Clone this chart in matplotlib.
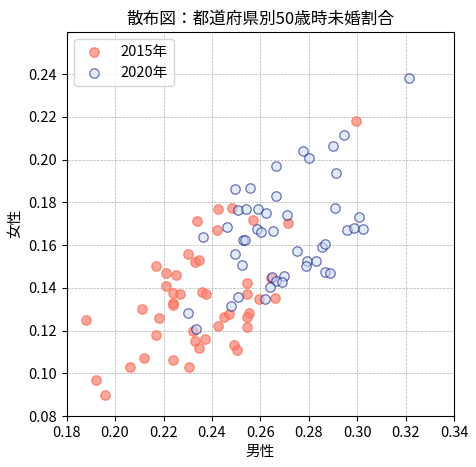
import matplotlib
matplotlib.use("Agg")
import matplotlib.pyplot as plt
from matplotlib.ticker import MultipleLocator

plt.rcParams["font.family"] = ["Noto Sans CJK JP", "DejaVu Sans"]

# 都道府県別50歳時未婚割合 (男性, 女性)
male_2015 = [0.188, 0.192, 0.196, 0.206, 0.212, 0.211, 0.217, 0.218, 0.217, 0.221,
             0.221, 0.225, 0.224, 0.227, 0.224, 0.224, 0.224, 0.230, 0.233, 0.2345,
             0.2307, 0.232, 0.233, 0.2348, 0.2373, 0.236, 0.2377, 0.2426, 0.2451, 0.2472,
             0.2492, 0.2505, 0.2340, 0.2426, 0.2484, 0.2420, 0.2546, 0.2546, 0.2554, 0.2546,
             0.2544, 0.2596, 0.2571, 0.2716, 0.2662, 0.2644, 0.2995]
female_2015 = [0.125, 0.097, 0.090, 0.103, 0.107, 0.130, 0.118, 0.126, 0.150, 0.141,
               0.147, 0.146, 0.1375, 0.137, 0.133, 0.132, 0.106, 0.156, 0.152, 0.153,
               0.103, 0.120, 0.115, 0.112, 0.116, 0.138, 0.137, 0.1221, 0.1262, 0.1278,
               0.1132, 0.1109, 0.1713, 0.1768, 0.1773, 0.1671, 0.1421, 0.1370, 0.1281, 0.1262,
               0.1215, 0.1348, 0.1718, 0.1702, 0.1351, 0.1445, 0.2181]

male_2020 = [0.2302, 0.2334, 0.2495, 0.2524, 0.2509, 0.2479, 0.2497, 0.2463, 0.2364, 0.2775,
             0.2802, 0.2665, 0.2912, 0.2557, 0.2665, 0.2908, 0.2509, 0.2539, 0.2592, 0.2622,
             0.2711, 0.3009, 0.2587, 0.2601, 0.2654, 0.2527, 0.2538, 0.2957, 0.2988, 0.3025,
             0.2753, 0.2794, 0.2789, 0.2830, 0.2856, 0.2866, 0.2868, 0.2886, 0.2648, 0.2698,
             0.2665, 0.2689, 0.2640, 0.2620, 0.3215, 0.2947, 0.2901]
female_2020 = [0.1282, 0.1209, 0.1559, 0.1507, 0.1356, 0.1315, 0.1863, 0.1684, 0.1638, 0.2041,
               0.2007, 0.1971, 0.1937, 0.1866, 0.1827, 0.1773, 0.1765, 0.1768, 0.1768, 0.1749,
               0.1741, 0.1732, 0.1676, 0.1662, 0.1666, 0.1624, 0.1624, 0.1671, 0.1679, 0.1674,
               0.1573, 0.1523, 0.1502, 0.1526, 0.1590, 0.1605, 0.1473, 0.1468, 0.1452, 0.1456,
               0.1432, 0.1429, 0.1403, 0.1346, 0.2381, 0.2115, 0.2064]

fig = plt.figure(figsize=(4.77, 4.67), dpi=100)
ax = fig.add_axes([0.1398, 0.1092, 0.8120, 0.8229])

ax.scatter(male_2015, female_2015, s=46, facecolor="salmon", edgecolor="tomato",
           alpha=0.7, linewidths=0.9, label="2015年", zorder=3)
ax.scatter(male_2020, female_2020, s=46, facecolor="#c6dbef", edgecolor="navy",
           alpha=0.55, linewidths=0.9, label="2020年", zorder=3)

ax.set_xlim(0.18, 0.34)
ax.set_ylim(0.08, 0.2598)
ax.xaxis.set_major_locator(MultipleLocator(0.02))
ax.yaxis.set_major_locator(MultipleLocator(0.02))
ax.set_xlabel("男性", fontsize=10.5)
ax.set_ylabel("女性", fontsize=10.5)
ax.set_title("散布図：都道府県別50歳時未婚割合", fontsize=12)
ax.grid(True, ls="--", lw=0.5, color="#b0b0b0")
ax.tick_params(labelsize=10.5)
ax.legend(loc="upper left", fontsize=10.5)

fig.savefig("out.png")
